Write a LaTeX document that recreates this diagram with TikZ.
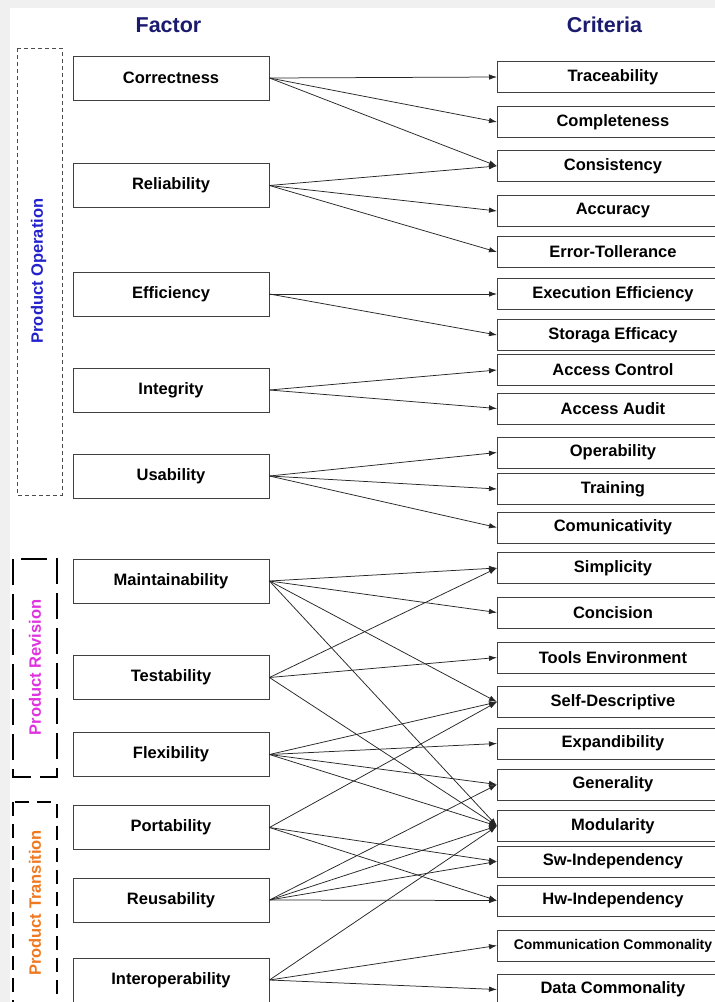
\documentclass[tikz,border=0pt]{standalone}
\usepackage{fontspec}
\setmainfont{Liberation Sans}
\usetikzlibrary{arrows.meta}
\definecolor{navy}{HTML}{1A1A6E}
\definecolor{opblue}{HTML}{2222CC}
\definecolor{revmag}{HTML}{E033E0}
\definecolor{traor}{HTML}{F07820}
\begin{document}
\begin{tikzpicture}[x=1pt,y=-1pt,
  fbox/.style={draw=black!75, line width=0.9pt, fill=white, minimum width=196pt,
    minimum height=44pt, inner sep=0pt, font=\fontsize{16.5}{18}\selectfont\bfseries},
  cbox/.style={draw=black!75, line width=0.9pt, fill=white, minimum width=231pt,
    minimum height=31pt, inner sep=0pt, anchor=west, font=\fontsize{16.5}{18}\selectfont\bfseries},
  head/.style={font=\fontsize{21.5}{24}\selectfont\bfseries, text=navy},
  grplabel/.style={rotate=90, font=\fontsize{16.5}{18}\selectfont\bfseries, inner sep=0pt},
  link/.style={draw=black!85, line width=0.75pt, -{Latex[length=8pt,width=5.5pt]}}
]
\clip (0,0) rectangle (715,1002);
\fill[black!6] (0,0) rectangle (715,1002);
\fill[white] (10,8) rectangle (715,1002);

% headings
\node[head] (hfac) at (168.5,25) {Factor};
\node[head] (hcri) at (604.5,25) {Criteria};

% group boxes
\draw[black!70, line width=0.9pt, dash pattern=on 4pt off 3pt] (17,48) rectangle (62,495);
\node[grplabel, text=opblue] (gop) at (38.5,271) {Product Operation};
\draw[black, line width=2.4pt, dash pattern=on 26pt off 9pt] (13,559) rectangle (57,777);
\node[grplabel, text=revmag] (grev) at (35,667.5) {Product Revision};
\draw[black, line width=1.8pt, dash pattern=on 14pt off 8pt] (13,802) rectangle (57,1030);
\node[grplabel, text=traor] (gtra) at (35,903) {Product Transition};

% factor boxes
\node[fbox] (cor) at (171,78) {Correctness};
\node[fbox] (rel) at (171,185.5) {Reliability};
\node[fbox] (eff) at (171,294) {Efficiency};
\node[fbox] (int) at (171,390) {Integrity};
\node[fbox] (usa) at (171,476) {Usability};
\node[fbox] (mai) at (171,581) {Maintainability};
\node[fbox] (tes) at (171,677.5) {Testability};
\node[fbox] (fle) at (171,754.5) {Flexibility};
\node[fbox] (por) at (171,827.5) {Portability};
\node[fbox] (reu) at (171,900) {Reusability};
\node[fbox] (ino) at (171,980) {Interoperability};

% criteria boxes
\node[cbox] (tra) at (497,77) {Traceability};
\node[cbox] (com) at (497,122) {Completeness};
\node[cbox] (con) at (497,166) {Consistency};
\node[cbox] (acc) at (497,211) {Accuracy};
\node[cbox] (err) at (497,252) {Error-Tollerance};
\node[cbox] (exe) at (497,294) {Execution Efficiency};
\node[cbox] (sto) at (497,335) {Storaga Efficacy};
\node[cbox] (acn) at (497,370) {Access Control};
\node[cbox] (aau) at (497,408.5) {Access Audit};
\node[cbox] (ope) at (497,452.5) {Operability};
\node[cbox] (trn) at (497,489) {Training};
\node[cbox] (cmv) at (497,527.5) {Comunicativity};
\node[cbox] (sim) at (497,568) {Simplicity};
\node[cbox] (cnc) at (497,612.5) {Concision};
\node[cbox] (too) at (497,657.5) {Tools Environment};
\node[cbox] (sde) at (497,702) {Self-Descriptive};
\node[cbox] (exp) at (497,743.5) {Expandibility};
\node[cbox] (gen) at (497,784.5) {Generality};
\node[cbox] (mod) at (497,826) {Modularity};
\node[cbox] (swi) at (497,861.5) {Sw-Independency};
\node[cbox] (hwi) at (497,900.5) {Hw-Independency};
\node[cbox, font=\fontsize{14}{16}\selectfont\bfseries] (cco) at (497,945.5) {Communication Commonality};
\node[cbox] (dco) at (497,989.5) {Data Commonality};

% connectors
\foreach \f/\c in {cor/tra,cor/com,cor/con,
  rel/con,rel/acc,rel/err,
  eff/exe,eff/sto,
  int/acn,int/aau,
  usa/ope,usa/trn,usa/cmv,
  mai/sim,mai/cnc,mai/sde,mai/mod,
  tes/sim,tes/too,tes/mod,
  fle/sde,fle/exp,fle/gen,fle/mod,
  por/sde,por/swi,por/hwi,
  reu/gen,reu/mod,reu/swi,reu/hwi,
  ino/mod,ino/cco,ino/dco}
  \draw[link] (\f.east) -- (\c.west);
\end{tikzpicture}
\end{document}
